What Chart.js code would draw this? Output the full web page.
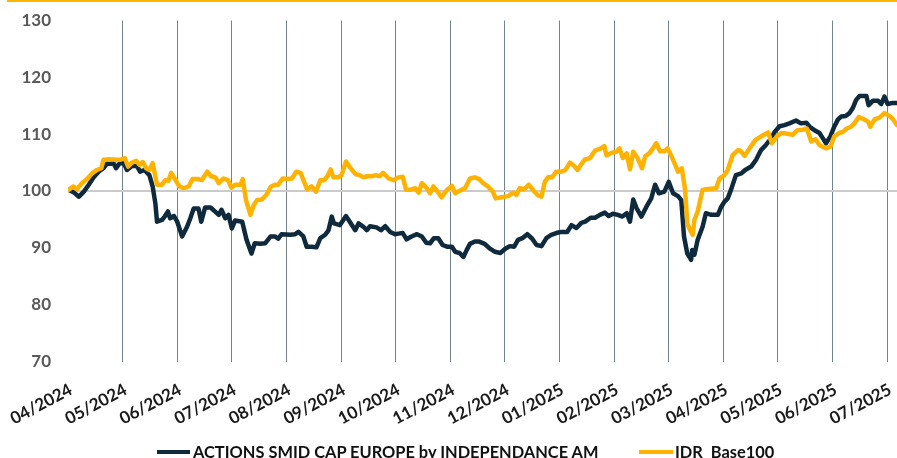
<!DOCTYPE html>
<html>
<head>
<meta charset="utf-8">
<script src="https://cdn.jsdelivr.net/npm/chart.js@4.4.1/dist/chart.umd.min.js"></script>
<style>
html,body{margin:0;padding:0;background:#fff;}
#wrap{position:relative;width:897px;height:458px;overflow:hidden;background:#fff;}
#c{position:absolute;left:0;top:0;}
.topbar{position:absolute;left:7px;top:0;width:890px;height:2px;background:#ffb500;}
.leg{position:absolute;font-family:Lato,sans-serif;font-weight:bold;font-size:16.4px;line-height:17px;color:#111;white-space:pre;}
.sw{position:absolute;height:4px;}
</style>
</head>
<body>
<div id="wrap">
<canvas id="c" width="897" height="458"></canvas>
<div class="topbar"></div>
<div class="sw" style="left:157px;top:450px;width:33px;background:#0e2a3c"></div>
<div class="leg" style="left:193px;top:443px">ACTIONS SMID CAP EUROPE by INDEPENDANCE AM</div>
<div class="sw" style="left:639px;top:450px;width:34px;background:#ffb300"></div>
<div class="leg" style="left:675px;top:443px">IDR  Base100</div>
</div>
<script>
const monthLabels = ["04/2024","05/2024","06/2024","07/2024","08/2024","09/2024","10/2024","11/2024","12/2024","01/2025","02/2025","03/2025","04/2025","05/2025","06/2025","07/2025"];

const seriesNames = ["ACTIONS SMID CAP EUROPE by INDEPENDANCE AM", "IDR  Base100"];

// x positions expressed in months since 04/2024
const smidX = [0.01,0.10,0.20,0.29,0.38,0.47,0.56,0.65,0.71,0.84,0.88,0.94,1.02,1.08,1.17,1.26,1.32,1.40,1.49,1.55,1.60,1.63,1.72,1.77,1.83,1.87,1.94,2.00,2.09,2.18,2.24,2.30,2.39,2.44,2.51,2.61,2.69,2.76,2.81,2.88,2.94,3.00,3.06,3.19,3.27,3.36,3.42,3.52,3.61,3.71,3.79,3.85,3.91,4.07,4.16,4.22,4.31,4.37,4.46,4.55,4.62,4.71,4.77,4.83,4.87,4.98,5.09,5.18,5.26,5.32,5.41,5.47,5.53,5.65,5.73,5.81,5.90,5.99,6.05,6.13,6.20,6.29,6.39,6.48,6.56,6.63,6.70,6.78,6.86,6.94,7.03,7.09,7.17,7.24,7.30,7.36,7.45,7.53,7.63,7.72,7.82,7.92,8.00,8.09,8.17,8.24,8.32,8.41,8.50,8.58,8.67,8.76,8.85,8.94,9.03,9.14,9.22,9.31,9.40,9.47,9.57,9.65,9.74,9.83,9.90,9.98,10.07,10.15,10.23,10.29,10.35,10.41,10.50,10.59,10.68,10.75,10.82,10.92,11.00,11.08,11.17,11.23,11.28,11.34,11.38,11.41,11.43,11.47,11.53,11.62,11.68,11.78,11.90,11.96,12.02,12.08,12.14,12.23,12.33,12.40,12.51,12.60,12.69,12.78,12.88,12.94,13.03,13.12,13.21,13.33,13.42,13.52,13.58,13.67,13.76,13.82,13.88,13.96,14.03,14.10,14.16,14.24,14.31,14.37,14.43,14.49,14.62,14.66,14.74,14.83,14.89,14.95,15.01,15.10,15.18];
const smidY = [100.2,99.8,99.0,99.9,101.1,102.4,103.4,104.0,104.8,104.8,104.0,104.8,105.0,103.7,104.4,104.4,103.4,103.7,102.8,100.8,97.8,94.6,94.9,95.5,96.4,95.2,95.6,94.6,92.0,93.7,95.2,96.9,96.9,94.6,97.1,97.1,96.4,95.8,96.7,95.2,95.8,93.4,94.8,94.6,91.4,89.0,90.8,90.7,90.8,92.0,92.0,91.6,92.4,92.3,92.4,92.8,92.0,90.2,90.2,90.1,91.7,92.3,93.1,95.5,94.3,94.0,95.6,94.3,93.1,94.3,93.7,93.1,93.8,93.6,93.1,93.8,92.8,92.4,92.5,92.6,91.5,92.0,92.4,92.0,90.9,90.8,91.7,91.7,90.5,90.2,90.2,89.3,89.1,88.4,89.6,90.7,91.1,91.1,90.7,89.9,89.3,89.1,89.8,90.3,90.2,91.4,91.7,92.4,91.6,90.5,90.3,91.7,92.3,92.6,92.8,92.8,94.0,93.5,94.4,94.6,95.3,95.3,95.8,96.2,95.6,96.0,95.8,95.5,96.1,94.6,98.5,97.0,95.5,97.2,98.7,101.1,99.6,99.9,101.6,99.6,99.1,98.4,92.0,89.0,88.4,87.9,89.6,88.8,91.4,93.7,96.1,95.8,95.8,97.2,98.1,98.7,100.2,102.8,103.1,103.7,104.3,105.5,107.2,108.1,109.3,110.4,111.4,111.6,111.9,112.4,111.9,112.0,111.3,110.7,110.2,109.3,108.4,109.6,111.3,112.6,113.1,113.2,113.7,114.6,116.0,116.7,116.7,115.1,115.9,115.9,115.3,116.6,115.3,115.5,115.5];

const idrX = [0.01,0.10,0.16,0.26,0.35,0.44,0.53,0.61,0.65,0.75,0.87,0.96,1.04,1.10,1.17,1.25,1.31,1.37,1.43,1.49,1.55,1.63,1.72,1.78,1.84,1.89,1.97,2.04,2.12,2.21,2.28,2.39,2.45,2.55,2.62,2.70,2.76,2.85,2.93,2.99,3.06,3.16,3.20,3.26,3.34,3.40,3.46,3.55,3.63,3.72,3.79,3.85,3.93,4.03,4.10,4.18,4.26,4.31,4.38,4.46,4.54,4.62,4.69,4.75,4.81,4.86,4.95,5.01,5.09,5.16,5.26,5.34,5.41,5.48,5.56,5.64,5.71,5.77,5.87,5.96,6.05,6.13,6.19,6.26,6.36,6.42,6.48,6.57,6.63,6.69,6.75,6.84,6.94,7.03,7.09,7.18,7.27,7.36,7.45,7.53,7.60,7.69,7.78,7.83,7.94,8.06,8.15,8.21,8.27,8.35,8.44,8.52,8.60,8.67,8.73,8.79,8.86,8.94,9.03,9.11,9.19,9.27,9.33,9.39,9.46,9.56,9.65,9.74,9.82,9.86,9.95,10.04,10.10,10.16,10.23,10.29,10.35,10.43,10.51,10.57,10.65,10.71,10.77,10.84,10.92,10.98,11.05,11.12,11.17,11.24,11.30,11.34,11.39,11.44,11.47,11.53,11.62,11.68,11.87,11.93,12.02,12.08,12.17,12.27,12.31,12.39,12.48,12.59,12.69,12.82,12.89,12.98,13.06,13.15,13.27,13.36,13.46,13.53,13.61,13.69,13.76,13.82,13.88,13.96,14.03,14.12,14.19,14.26,14.34,14.40,14.48,14.56,14.65,14.69,14.77,14.86,14.95,15.04,15.10,15.18];
const idrY = [100.2,100.8,100.3,101.4,102.1,103.1,103.7,104.0,105.5,105.6,105.5,105.5,105.8,104.3,105.0,105.3,104.6,105.1,104.0,103.7,104.9,101.1,101.1,101.9,101.8,103.2,101.9,100.8,100.5,100.8,102.1,102.1,101.9,103.4,102.6,102.4,101.4,102.2,101.9,100.6,101.1,101.1,102.1,98.4,95.8,97.5,98.4,98.5,99.3,100.8,101.1,101.1,102.2,102.1,102.2,103.4,103.2,101.9,100.3,100.8,99.9,101.9,101.9,102.6,103.8,102.4,102.4,102.8,105.2,104.2,103.0,102.8,102.4,102.6,102.6,102.8,102.6,103.2,102.2,101.9,102.4,102.5,100.2,100.2,100.5,99.7,101.4,100.5,99.6,100.8,100.1,98.9,100.2,100.9,99.6,100.1,100.5,102.2,102.4,102.1,101.4,100.8,99.9,98.7,98.9,99.1,99.7,99.3,100.5,100.3,101.1,100.1,99.3,99.0,101.6,102.4,102.4,103.4,103.4,103.7,105.0,104.4,103.7,104.6,105.5,105.8,107.1,107.4,107.9,106.3,106.7,106.9,107.5,105.8,106.6,103.8,106.9,105.8,104.0,106.1,106.7,107.5,108.4,107.0,107.0,107.5,106.1,104.6,103.4,104.0,100.2,94.3,93.1,92.3,94.9,96.4,100.2,100.3,100.5,102.2,102.8,103.7,106.3,107.2,107.1,106.2,107.5,109.0,109.6,110.3,108.4,109.6,110.2,110.1,109.9,110.7,110.8,111.0,108.7,109.1,108.1,107.8,107.5,107.8,109.6,110.2,110.4,111.0,111.3,111.9,113.0,112.7,112.2,111.3,112.6,112.9,113.7,113.2,112.7,111.6];

const yTicks = [70, 80, 90, 100, 110, 120, 130];

const toPoints = (xs, ys) => xs.map((x, i) => ({ x: x, y: ys[i] }));

const FONT = "Lato, 'Open Sans', sans-serif";

new Chart(document.getElementById('c'), {
  type: 'line',
  data: {
    datasets: [
      {
        label: seriesNames[0],
        data: toPoints(smidX, smidY),
        borderColor: '#0e2a3c',
        borderWidth: 4.5,
        pointRadius: 0,
        tension: 0,
        borderJoinStyle: 'round',
        borderCapStyle: 'round',
        order: 2
      },
      {
        label: seriesNames[1],
        data: toPoints(idrX, idrY),
        borderColor: '#ffb300',
        borderWidth: 4.5,
        pointRadius: 0,
        tension: 0,
        borderJoinStyle: 'round',
        borderCapStyle: 'round',
        order: 1
      }
    ]
  },
  options: {
    responsive: false,
    animation: false,
    devicePixelRatio: 1,
    layout: { padding: { top: 20.5, right: 0, left: 0, bottom: 0 } },
    plugins: { legend: { display: false }, tooltip: { enabled: false } },
    scales: {
      x: {
        type: 'linear',
        min: 0,
        max: 15.18,
        afterBuildTicks: (scale) => { scale.ticks = monthLabels.map((_, i) => ({ value: i })); },
        afterFit: (scale) => { scale.height = 96.5; scale.paddingLeft = 0; scale.paddingRight = 0; },
        border: { display: false },
        grid: {
          drawTicks: false,
          lineWidth: 1,
          color: (ctx) => (ctx.index === 0 ? 'rgba(0,0,0,0)' : '#72858f')
        },
        ticks: {
          autoSkip: false,
          minRotation: 28,
          maxRotation: 28,
          padding: 18,
          labelOffset: 3,
          color: '#1a1a1a',
          font: { family: FONT, size: 17, weight: 'bold' },
          callback: (v, i) => monthLabels[i]
        }
      },
      y: {
        min: 70,
        max: 130,
        afterBuildTicks: (scale) => { scale.ticks = yTicks.map(v => ({ value: v })); },
        afterFit: (scale) => { scale.width = 68; scale.paddingTop = 0; scale.paddingBottom = 0; },
        border: { display: false },
        grid: {
          drawTicks: false,
          lineWidth: 2,
          color: (ctx) => (ctx.tick && ctx.tick.value === 100 ? '#cbcbcb' : 'rgba(0,0,0,0)')
        },
        ticks: {
          padding: 17,
          color: '#595959',
          font: { family: FONT, size: 17, weight: 'bold' }
        }
      }
    }
  }
});
</script>
</body>
</html>
